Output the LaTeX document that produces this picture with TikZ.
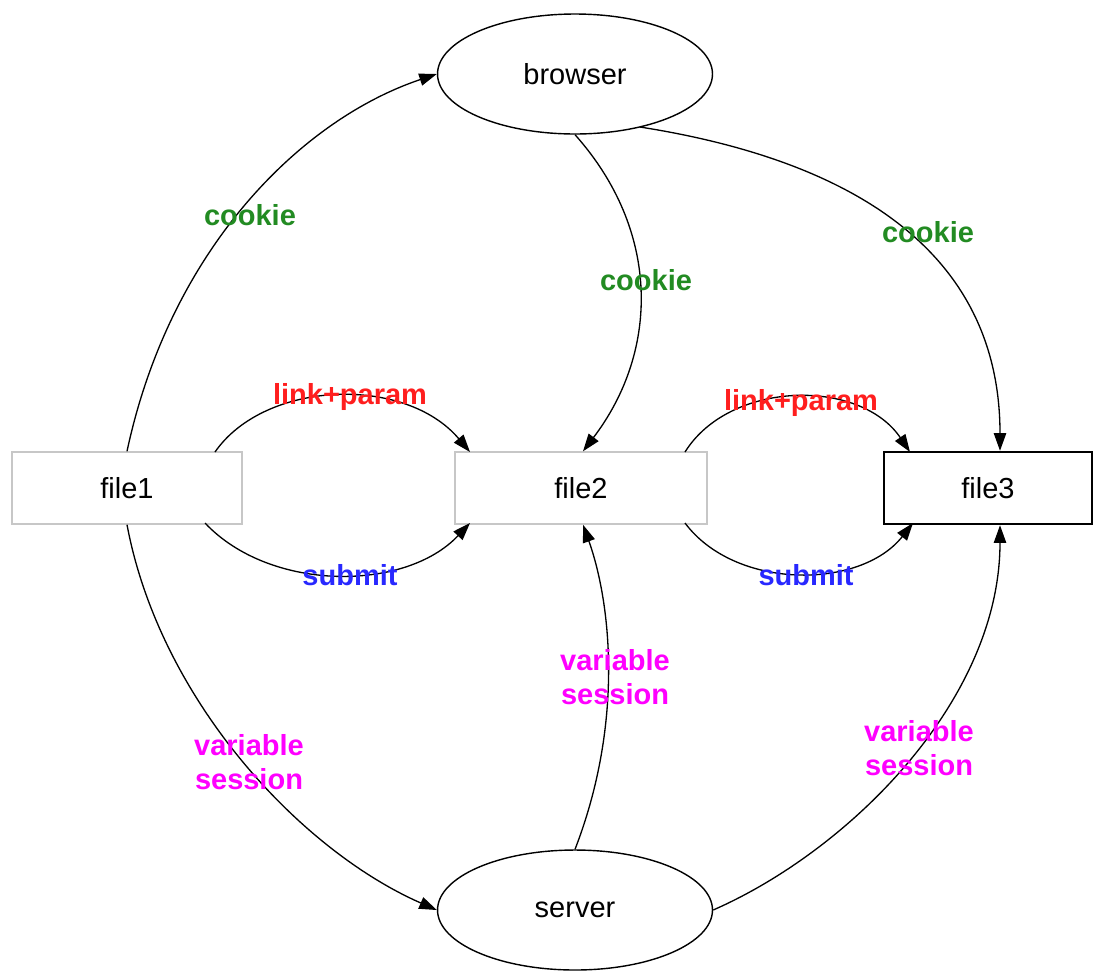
\documentclass[tikz,border=0pt]{standalone}
\usepackage{fontspec}
\setmainfont{Liberation Sans}
\usetikzlibrary{shapes.geometric,arrows.meta}
\definecolor{cgreen}{RGB}{34,139,34}
\definecolor{cred}{RGB}{255,30,30}
\definecolor{cblue}{RGB}{40,40,255}
\definecolor{cmag}{RGB}{255,0,255}
\begin{document}
\begin{tikzpicture}[x=0.02cm,y=-0.02cm,
  every node/.style={font=\fontsize{16.5}{19}\selectfont, inner sep=0pt},
  ell/.style={draw=black, line width=0.8pt, ellipse, minimum width=5.5cm, minimum height=2.4cm},
  filebox/.style={draw=black!22, line width=0.8pt, rectangle, minimum height=1.44cm},
  lbl/.style={font=\fontsize{16.5}{19}\selectfont\bfseries, align=center},
  conn/.style={draw=black, line width=0.75pt, -{Triangle[length=10pt,width=7pt]}}
]
\useasboundingbox (0,0) rectangle (1094,975);
\node[ell] (browser) at (575,74) {browser};
\node[ell] (server) at (575,910) {server};
\node[filebox, minimum width=4.6cm] (file1) at (127,488) {file1};
\node[filebox, minimum width=5.04cm] (file2) at (581,488) {file2};
\node[filebox, draw=black, line width=1.4pt, minimum width=4.16cm] (file3) at (988,488) {file3};

% cookies
\draw[conn] (file1.north) .. controls (170,250) and (300,120) .. (browser.west);
\draw[conn] (browser.south) .. controls (660,230) and (660,350) .. ([xshift=0.04cm]file2.north);
\coordinate (b3) at (640,127);
\draw[conn] (b3) .. controls (850,160) and (1000,250) .. ([xshift=0.24cm]file3.north);

% link+param / submit
\coordinate (f1a) at (215,452);
\coordinate (f1b) at (205,523);
\coordinate (f2a) at (470,452);
\coordinate (f2b) at (470,523);
\coordinate (f2c) at (685,452);
\coordinate (f2d) at (685,523);
\coordinate (f3a) at (910,452);
\coordinate (f3b) at (913,523);
\draw[conn] (f1a) .. controls (265,380) and (405,375) .. (f2a);
\draw[conn] (f1b) .. controls (270,592) and (405,592) .. (f2b);
\draw[conn] (f2c) .. controls (730,380) and (860,378) .. (f3a);
\draw[conn] (f2d) .. controls (735,590) and (860,590) .. (f3b);

% sessions
\draw[conn] (file1.south) .. controls (160,700) and (300,850) .. (server.west);
\draw[conn] (server.north) .. controls (625,720) and (610,600) .. ([xshift=0.04cm]file2.south);
\draw[conn] (server.east) .. controls (850,850) and (1000,700) .. ([xshift=0.24cm]file3.south);

% labels
\node[lbl, text=cgreen] (l1) at (250,215) {cookie};
\node[lbl, text=cgreen] (l2) at (646,280) {cookie};
\node[lbl, text=cgreen] (l3) at (928,232) {cookie};
\node[lbl, text=cred] (l4) at (350,397) {link+param};
\node[lbl, text=cred] (l5) at (801,403) {link+param};
\node[lbl, text=cblue] (l6) at (350,575) {submit};
\node[lbl, text=cblue] (l7) at (806,575) {submit};
\node[lbl, text=cmag] (l8) at (249,762) {variable\\session};
\node[lbl, text=cmag] (l9) at (615,677) {variable\\session};
\node[lbl, text=cmag] (l10) at (919,748) {variable\\session};
\end{tikzpicture}
\end{document}
